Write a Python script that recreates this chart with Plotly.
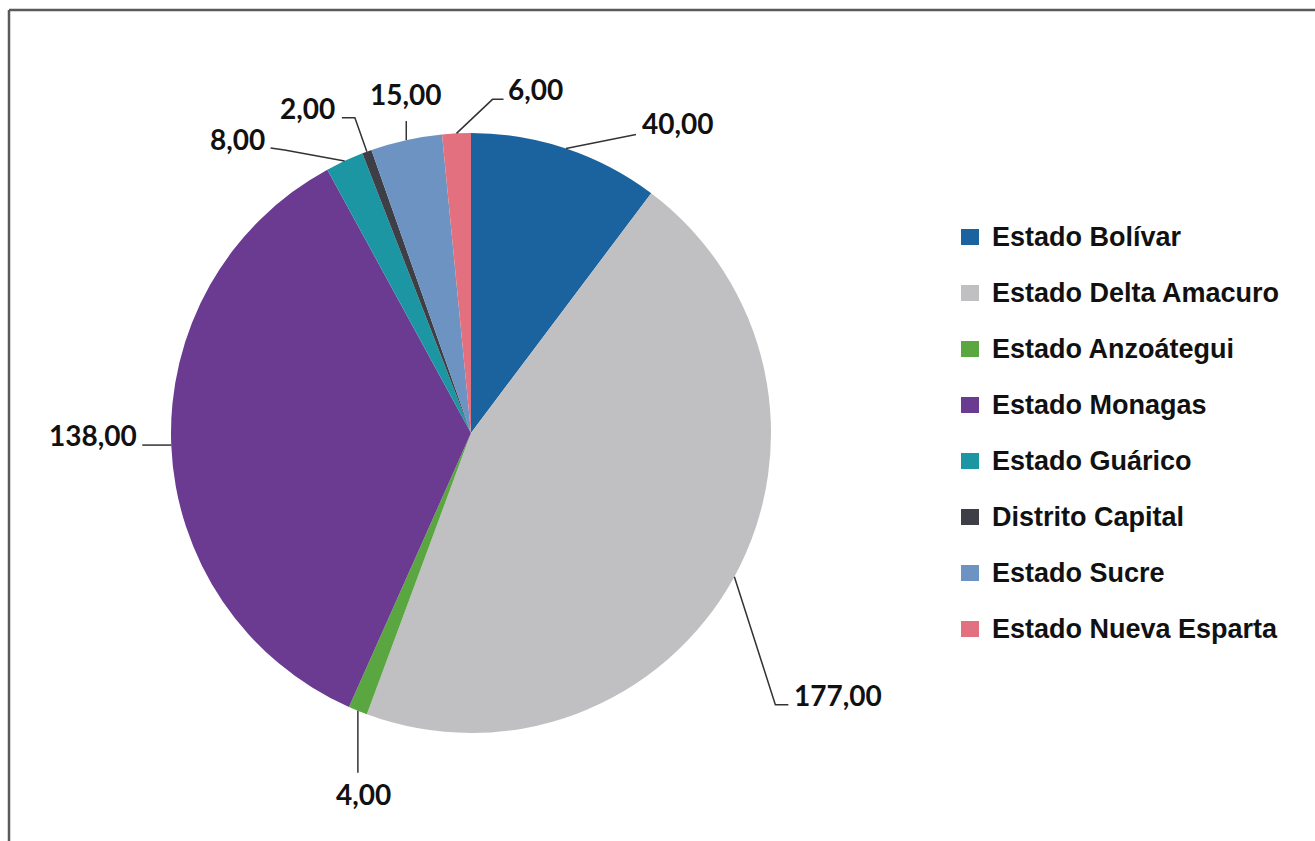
import math
import plotly.graph_objects as go

# ---------------- data ----------------
labels = ["Estado Bolívar", "Estado Delta Amacuro", "Estado Anzoátegui", "Estado Monagas",
          "Estado Guárico", "Distrito Capital", "Estado Sucre", "Estado Nueva Esparta"]
values = [40, 177, 4, 138, 8, 2, 15, 6]
colors = ["#1a639e", "#c0bfc2", "#5aa742", "#6b3a91", "#1c96a2", "#3e3e46", "#6d93c3", "#e3707e"]

# ---------------- layout / style ----------------
W, H = 1315, 841
CX, CY, R = 471, 433, 300          # pie centre and radius in pixels


def px(x):
    return x / W


def py(y):
    return 1 - y / H


# leader-line geometry per slice: points relative to the slice's arc point,
# then text offset relative to last point and its anchor
LEADERS = [
    dict(path=[(70, -14)], text=(4, -11), anchor="left"),
    dict(path=[(41, 128), (54, 128)], text=(4, -10), anchor="left"),
    dict(path=[(0, 62)], text=(6, 21), anchor="center"),
    dict(path=[(-29, 0)], text=(-3, -10), anchor="right"),
    dict(path=[(-60, -11), (-74, -13)], text=(-4, -9), anchor="right"),
    dict(path=[(-12, -34), (-25, -34)], text=(-5, -10), anchor="right"),
    dict(path=[(0, -19)], text=(0, -27), anchor="center"),
    dict(path=[(36, -34), (47, -34)], text=(2, -10), anchor="left"),
]

LABEL_FONT = dict(family="Lato, 'Open Sans', sans-serif", size=28, color="#111111", weight=700)
LEGEND_FONT = dict(family="'Liberation Sans', Arial, sans-serif", size=27, color="#111111", weight=700)

fig = go.Figure(
    go.Pie(
        labels=labels,
        values=values,
        sort=False,
        direction="clockwise",
        rotation=0,
        marker=dict(colors=colors, line=dict(width=0)),
        textinfo="none",
        hoverinfo="label+value",
        showlegend=False,
        domain=dict(x=[px(CX - R), px(CX + R)], y=[py(CY + R), py(CY - R)]),
    )
)

shapes = []
annotations = []

total = float(sum(values))
cum = 0.0
for v, leader in zip(values, LEADERS):
    ang = (cum + v / 2.0) / total * 2 * math.pi
    cum += v
    ax = CX + R * math.sin(ang)
    ay = CY - R * math.cos(ang)
    pts = [(ax, ay)] + [(ax + dx, ay + dy) for dx, dy in leader["path"]]
    path = "M " + " L ".join(f"{px(x):.5f},{py(y):.5f}" for x, y in pts)
    shapes.append(dict(type="path", xref="paper", yref="paper", path=path,
                       line=dict(color="#333333", width=1.5)))
    ex, ey = pts[-1]
    tx, ty = ex + leader["text"][0], ey + leader["text"][1]
    annotations.append(dict(
        x=px(tx), y=py(ty), xref="paper", yref="paper",
        text=f"{v:.2f}".replace(".", ","), showarrow=False,
        xanchor=leader["anchor"], yanchor="middle", font=LABEL_FONT,
    ))

# custom legend
LEG_X, LEG_Y0, LEG_DY = 961, 237, 56
for i, (lab, col) in enumerate(zip(labels, colors)):
    yc = LEG_Y0 + LEG_DY * i
    shapes.append(dict(type="rect", xref="paper", yref="paper",
                       x0=px(LEG_X), x1=px(LEG_X + 18), y0=py(yc + 8), y1=py(yc - 8),
                       fillcolor=col, line=dict(width=0)))
    annotations.append(dict(
        x=px(LEG_X + 29), y=py(yc), xref="paper", yref="paper",
        text=lab, showarrow=False, xanchor="left", yanchor="middle", font=LEGEND_FONT,
    ))

# frame (top and left edges visible)
shapes.append(dict(type="line", xref="paper", yref="paper", x0=px(9), x1=1.0, y0=py(10), y1=py(10),
                   line=dict(color="#5a5a5a", width=2.5)))
shapes.append(dict(type="line", xref="paper", yref="paper", x0=px(9), x1=px(9), y0=py(10), y1=0.0,
                   line=dict(color="#5a5a5a", width=2.5)))

fig.update_layout(
    width=W, height=H,
    margin=dict(l=0, r=0, t=0, b=0),
    paper_bgcolor="white", plot_bgcolor="white",
    shapes=shapes, annotations=annotations,
    showlegend=False,
)

fig.write_html("out.html", config={"displayModeBar": False},
               post_script="document.body.style.margin='0';")
